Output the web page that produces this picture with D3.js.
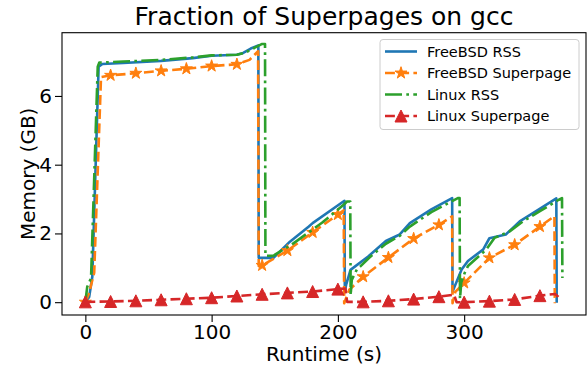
<!DOCTYPE html>
<html>
<head>
<meta charset="utf-8">
<script src="https://cdn.jsdelivr.net/npm/d3@7"></script>
<style>
  html, body { margin: 0; padding: 0; background: #fff; }
  svg { display: block; font-family: "DejaVu Sans", sans-serif; }
</style>
</head>
<body>
<svg id="chart" width="587" height="369"></svg>
<script>
// ---------- data ----------
const title = "Fraction of Superpages on gcc";
const xLabel = "Runtime (s)";
const yLabel = "Memory (GB)";
const xTicks = [0, 100, 200, 300];
const yTicks = [0, 2, 4, 6];
const seriesNames = ["FreeBSD RSS", "FreeBSD Superpage", "Linux RSS", "Linux Superpage"];
const markerStep = 20;

// FreeBSD RSS
const fbRssT = [0, 3, 5.5, 10.5, 13.5, 30, 60, 85, 100, 120, 125, 131, 137, 137.3, 149, 162, 177, 180, 205.2, 205.5, 206.5, 210, 224, 238, 249, 257, 274, 290.5, 290.8, 292.5, 298, 303, 315, 320, 333, 344, 357, 373, 373.3];
const fbRssV = [0, 0.15, 0.74, 6.85, 6.93, 6.96, 7.02, 7.1, 7.17, 7.2, 7.25, 7.38, 7.47, 1.29, 1.29, 1.76, 2.2, 2.3, 2.95, 0.3, 0.5, 0.94, 1.33, 1.78, 1.97, 2.3, 2.7, 3.03, 0.3, 0.46, 0.95, 1.2, 1.53, 1.86, 1.97, 2.35, 2.65, 3.02, -0.02];

// FreeBSD Superpage
const fbSpT = [0, 3, 7, 12.4, 20, 40, 60, 80, 100, 120, 130, 136.8, 137.3, 140, 160, 180, 200, 204.6, 205, 209, 220, 240, 260, 280, 290.5, 290.8, 293, 300, 320, 340, 360, 371.5, 371.8];
const fbSpV = [0, 0.27, 0.86, 6.55, 6.6, 6.66, 6.73, 6.79, 6.87, 6.92, 7.05, 7.3, 1.05, 1.07, 1.5, 2.03, 2.55, 2.67, -0.03, 0.36, 0.74, 1.3, 1.85, 2.25, 2.5, -0.03, 0.3, 0.56, 1.29, 1.67, 2.2, 2.5, -0.03];

// Linux RSS
const lxRssT = [0, 1.5, 4.5, 9.8, 11, 30, 60, 85, 100, 120, 126, 133, 139.6, 142.3, 142.6, 149, 150.5, 163.6, 187.4, 205, 207.2, 209.8, 210.1, 211, 215, 218, 225, 238, 249, 257, 274, 292, 295, 296.4, 296.7, 297.7, 300.4, 303, 317.5, 324, 336, 346.5, 360, 375, 377.5, 377.8];
const lxRssV = [0, 0.45, 0.7, 6.85, 6.97, 7.0, 7.05, 7.12, 7.18, 7.2, 7.25, 7.38, 7.51, 7.51, 1.35, 1.35, 1.39, 1.68, 2.31, 2.85, 2.93, 2.93, 0.2, 0.65, 0.95, 1.05, 1.3, 1.7, 1.93, 2.2, 2.62, 2.97, 3.03, 3.03, 0.1, 0.57, 0.85, 1.05, 1.53, 1.87, 2.06, 2.35, 2.65, 2.98, 3.03, 0.7];

// Linux Superpage
const lxSpT = [0, 20, 40, 60, 80, 100, 120, 140, 160, 180, 200, 206, 207.3, 220, 240, 260, 280, 292, 294, 300, 320, 340, 360, 372, 377];
const lxSpV = [0.01, 0.02, 0.04, 0.07, 0.1, 0.13, 0.18, 0.23, 0.27, 0.31, 0.38, 0.4, 0.01, 0.01, 0.04, 0.09, 0.16, 0.22, 0.0, 0.0, 0.03, 0.08, 0.19, 0.24, 0.08];

const colors = ["#1f77b4", "#ff7f0e", "#2ca02c", "#d62728"];

// ---------- layout ----------
const svg = d3.select("#chart");
const plot = { left: 62, right: 586, top: 32.7, bottom: 315 };
const x = d3.scaleLinear().domain([-18.5, 396.5]).range([plot.left, plot.right]);
const y = d3.scaleLinear().domain([-0.373, 7.84]).range([plot.bottom, plot.top]);

const zip = (t, v) => t.map((d, i) => ({ t: d, v: v[i] }));
const series = [
  { name: seriesNames[0], data: zip(fbRssT, fbRssV), color: colors[0], dash: null, marker: null },
  { name: seriesNames[1], data: zip(fbSpT, fbSpV), color: colors[1], dash: "9.9,4.3", marker: "star" },
  { name: seriesNames[2], data: zip(lxRssT, lxRssV), color: colors[2], dash: "17,4.3,2.7,4.3", marker: null },
  { name: seriesNames[3], data: zip(lxSpT, lxSpV), color: colors[3], dash: "9.9,4.3", marker: "tri" }
];

function starPath(R) {
  const r = R * 0.381966;
  const pts = [];
  for (let i = 0; i < 10; i++) {
    const a = Math.PI / 5 * i - Math.PI / 2;
    const rr = i % 2 === 0 ? R : r;
    pts.push([rr * Math.cos(a), rr * Math.sin(a)]);
  }
  return "M" + pts.map(p => p[0].toFixed(2) + "," + p[1].toFixed(2)).join("L") + "Z";
}
function triPath(h) {
  return `M0,${-h / 2}L${-h / 2},${h / 2}L${h / 2},${h / 2}Z`;
}
const markerD = { star: starPath(6.3), tri: triPath(12) };

// ---------- axes ----------
const xAxis = d3.axisBottom(x).tickValues(xTicks).tickSize(7).tickPadding(3).tickSizeOuter(0);
const yAxis = d3.axisLeft(y).tickValues(yTicks).tickSize(7).tickPadding(3).tickSizeOuter(0);

const gx = svg.append("g").attr("transform", `translate(0,${plot.bottom})`).call(xAxis);
const gy = svg.append("g").attr("transform", `translate(${plot.left},0)`).call(yAxis);
[gx, gy].forEach(g => {
  g.select(".domain").remove();
  g.selectAll(".tick line").attr("stroke", "#000").attr("stroke-width", 1.1);
  g.selectAll(".tick text").attr("font-size", 20).attr("fill", "#000").attr("font-family", "DejaVu Sans");
});

// ---------- lines ----------
const line = d3.line().x(d => x(d.t)).y(d => y(d.v));
const gLines = svg.append("g");
series.forEach(s => {
  gLines.append("path")
    .datum(s.data)
    .attr("d", line)
    .attr("fill", "none")
    .attr("stroke", s.color)
    .attr("stroke-width", 2.6)
    .attr("stroke-linejoin", "round")
    .attr("stroke-dasharray", s.dash);
  if (s.marker) {
    gLines.selectAll(null)
      .data(s.data.filter(d => d.t % markerStep === 0))
      .enter().append("path")
      .attr("d", markerD[s.marker])
      .attr("transform", d => `translate(${x(d.t)},${y(d.v)})`)
      .attr("fill", s.color)
      .attr("stroke", s.color)
      .attr("stroke-width", 1);
  }
});

// ---------- frame ----------
svg.append("rect")
  .attr("x", plot.left).attr("y", plot.top)
  .attr("width", plot.right - plot.left).attr("height", plot.bottom - plot.top)
  .attr("fill", "none").attr("stroke", "#000").attr("stroke-width", 1.1);

// ---------- texts ----------
svg.append("text")
  .attr("x", (plot.left + plot.right) / 2).attr("y", 25)
  .attr("text-anchor", "middle").attr("font-size", 25).attr("fill", "#000")
  .text(title);
svg.append("text")
  .attr("x", (plot.left + plot.right) / 2).attr("y", 361)
  .attr("text-anchor", "middle").attr("font-size", 20).attr("fill", "#000")
  .text(xLabel);
svg.append("text")
  .attr("transform", `translate(35,${(plot.top + plot.bottom) / 2}) rotate(-90)`)
  .attr("text-anchor", "middle").attr("font-size", 20).attr("fill", "#000")
  .text(yLabel);

// ---------- legend ----------
const lg = svg.append("g").attr("transform", "translate(380,39.5)");
lg.append("rect")
  .attr("width", 199).attr("height", 90).attr("rx", 3)
  .attr("fill", "#fff").attr("fill-opacity", 0.8)
  .attr("stroke", "#ccc").attr("stroke-width", 1);
series.forEach((s, i) => {
  const cy = 12 + i * 21.5;
  const row = lg.append("g").attr("transform", `translate(0,${cy})`);
  row.append("line")
    .attr("x1", 5).attr("x2", 37).attr("y1", 0).attr("y2", 0)
    .attr("stroke", s.color).attr("stroke-width", 2.6)
    .attr("stroke-dasharray", s.dash);
  if (s.marker) {
    row.append("path").attr("d", markerD[s.marker])
      .attr("transform", "translate(21,0)")
      .attr("fill", s.color).attr("stroke", s.color).attr("stroke-width", 1);
  }
  row.append("text")
    .attr("x", 47).attr("y", 0).attr("dy", "0.35em")
    .attr("font-size", 14.5).attr("fill", "#000")
    .text(s.name);
});
</script>
</body>
</html>
